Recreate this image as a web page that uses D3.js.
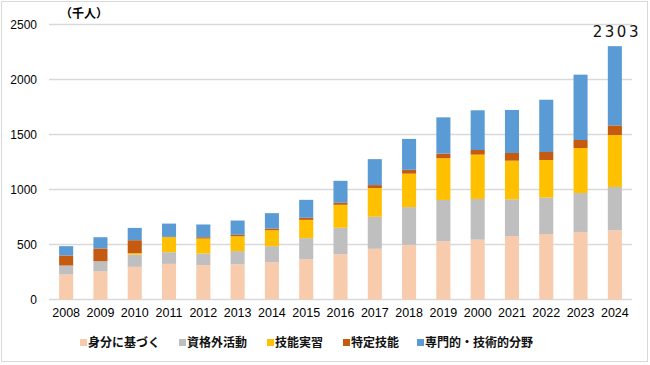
<!DOCTYPE html>
<html><head><meta charset="utf-8">
<script src="https://cdn.jsdelivr.net/npm/d3@7"></script>
<style>
body{margin:0;background:#fff;}
svg{display:block;font-family:"Noto Sans CJK JP","Noto Sans",sans-serif;}
</style></head>
<body>
<svg id="chart" width="650" height="365"></svg>
<script>
const years = ["2008","2009","2010","2011","2012","2013","2014","2015","2016","2017","2018","2019","2000","2021","2022","2023","2024"];
const seriesNames = ["身分に基づく","資格外活動","技能実習","特定技能","専門的・技術的分野"];
const colors = ["#F8CBAD","#BFBFBF","#FFC000","#C55A11","#5B9BD5"];
const mibun   = [227,255,297,324,312,319,339,367,412,461,497,529,544,577,595,614,629];
const shikaku = [82,93,112,106,106,121,146,191,240,291,343,376,370,334,331,354,394];
const jisshu  = [0,0,12,137,136,135,145,166,209,261,304,379,403,351,342,409,472];
const tokutei = [91,116,118,2,12,13,15,19,18,27,35,42,42,70,73,73,88];
const senmon  = [85,102,112,121,116,130,140,163,200,236,281,330,361,391,475,594,720];
const yTicks = [0,500,1000,1500,2000,2500];
const unitLabel = "（千人）";
const totalLabel = "2303";

const svg = d3.select("#chart");
svg.append("rect").attr("x",1.5).attr("y",1.5).attr("width",646).attr("height",360)
  .attr("fill","#fff").attr("stroke","#D9D9D9").attr("stroke-width",1);

const m = {left:49, right:632, top:24.5, bottom:299.5};
const x = d3.scaleBand().domain(years).range([m.left,m.right]).paddingInner(0.59).paddingOuter(0.295);
const y = d3.scaleLinear().domain([0,2500]).range([m.bottom,m.top]);

// grid
svg.append("g").selectAll("line").data(yTicks).join("line")
  .attr("x1",m.left).attr("x2",m.right)
  .attr("y1",d=>y(d)).attr("y2",d=>y(d))
  .attr("stroke","#D9D9D9").attr("stroke-width",1.5);

// y axis labels
const yAxis = d3.axisLeft(y).tickValues(yTicks).tickSize(0).tickPadding(12).tickFormat(d3.format("d"));
const gy = svg.append("g").attr("transform",`translate(${m.left},0)`).call(yAxis);
gy.select(".domain").remove();
gy.selectAll("text").attr("font-size",12).attr("fill","#000").attr("font-family","'Liberation Sans','DejaVu Sans',sans-serif");

// x axis labels
const xAxis = d3.axisBottom(x).tickSize(0).tickPadding(9);
const gx = svg.append("g").attr("transform",`translate(0,${m.bottom})`).call(xAxis);
gx.select(".domain").remove();
gx.selectAll("text").attr("font-size",12.5).attr("fill","#000").attr("font-family","'Liberation Sans','DejaVu Sans',sans-serif");

// stacked data
const table = years.map((yr,i)=>({year:yr, s0:mibun[i], s1:shikaku[i], s2:jisshu[i], s3:tokutei[i], s4:senmon[i]}));
const keys = ["s0","s1","s2","s3","s4"];
const stacked = d3.stack().keys(keys)(table);

svg.append("g").selectAll("g").data(stacked).join("g")
  .attr("fill",(d,i)=>colors[i])
  .selectAll("rect").data(d=>d).join("rect")
  .attr("x",d=>x(d.data.year)).attr("width",x.bandwidth())
  .attr("y",d=>y(d[1])).attr("height",d=>Math.max(0,y(d[0])-y(d[1])));

// unit label
svg.append("text").attr("x",60).attr("y",18).attr("font-size",12).attr("font-weight",700)
  .attr("fill","#000").text(unitLabel);

// total label
const last = years[years.length-1];
svg.append("text").attr("x",x(last)+x.bandwidth()/2+2).attr("y",37).attr("text-anchor","middle")
  .attr("font-size",15).attr("letter-spacing",2.5).attr("fill","#111")
  .attr("font-family","'DejaVu Sans',sans-serif").text(totalLabel);

// legend
const legendX = [80,179,267,343,417];
const lg = svg.append("g");
seriesNames.forEach((name,i)=>{
  lg.append("rect").attr("x",legendX[i]).attr("y",339).attr("width",7).attr("height",7).attr("fill",colors[i]);
  lg.append("text").attr("x",legendX[i]+8).attr("y",347).attr("font-size",12).attr("font-weight",700)
    .attr("fill","#111").text(name);
});
</script>
</body></html>
